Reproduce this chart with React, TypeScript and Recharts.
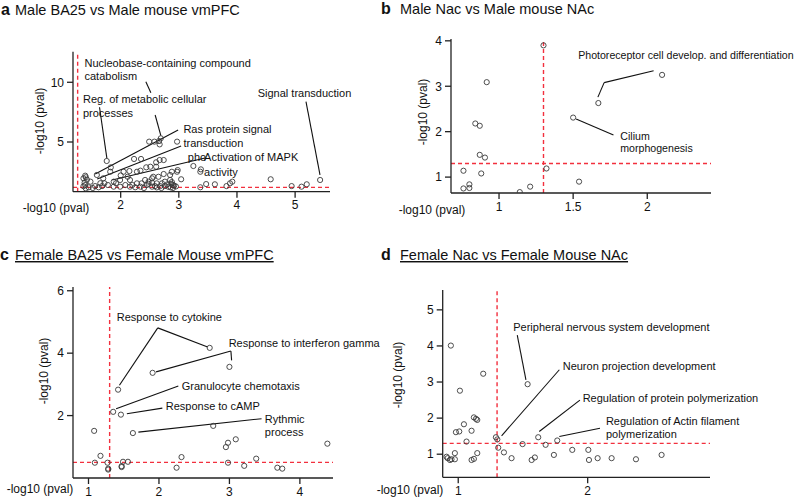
import React from 'react';
import { ScatterChart, Scatter, XAxis, YAxis, ReferenceLine, ReferenceDot } from 'recharts';

const FONT = '"Liberation Sans", Arial, Helvetica, sans-serif';

type Pt = [number, number];
type Note = { text: string; x: number; y: number };
type Seg = [number, number, number, number];

// ---------- Panel a: Male BA25 vs Male mouse vmPFC ----------
const maleBA25Points: Pt[] = [
  [2.49, 5.03], [2.58, 5.03], [2.66, 5.08], [2.69, 5.31], [2.67, 4.8], [2.97, 5.03],
  [1.76, 3.41], [2.23, 3.58], [2.35, 3.58], [2.61, 3.3], [2.67, 3.49], [2.74, 3.49],
  [3.25, 2.99], [3.38, 2.71], [3.37, 2.51], [1.83, 2.88], [1.82, 2.51],
  [2.05, 2.51], [2.15, 2.57], [2.28, 2.51], [2.34, 2.6], [2.44, 2.88], [2.51, 2.93], [2.61, 2.93],
  [2.88, 2.51], [2.97, 2.51], [2.98, 2.65], [1.59, 2.24], [1.39, 2.18], [1.36, 1.96], [1.4, 2.05],
  [2.85, 2.24], [2.74, 2.32], [2.65, 2.09], [2.56, 2.09], [2.12, 2.09], [2.0, 2.2],
  [3.04, 1.88], [2.85, 1.82], [2.88, 1.65], [2.87, 1.5], [2.9, 1.4], [2.92, 1.35], [2.95, 1.28],
  [2.86, 1.2], [2.8, 1.45], [2.76, 1.68], [2.71, 1.54], [2.62, 1.54], [2.54, 1.59], [2.59, 1.31],
  [2.68, 1.31], [2.76, 1.31], [1.7, 1.96], [1.72, 1.54], [1.88, 1.68], [1.99, 1.82], [2.16, 1.82],
  [2.28, 1.54], [2.36, 1.54], [2.42, 1.82], [2.48, 1.68], [2.54, 1.96], [2.45, 1.4], [2.54, 1.26],
  [1.48, 1.68], [1.39, 1.4], [1.45, 1.21], [1.56, 1.31], [1.62, 1.21], [1.68, 1.31], [1.88, 1.26],
  [1.99, 1.26], [2.08, 1.4], [2.16, 1.26], [2.25, 1.21], [2.34, 1.26], [1.38, 1.6], [1.42, 1.85],
  [1.36, 1.3], [1.4, 1.12], [1.52, 1.15], [1.65, 1.55], [1.78, 1.4], [1.92, 1.55], [2.2, 1.4],
  [2.4, 1.15], [2.62, 1.2], [2.48, 1.5], [2.7, 1.15], [2.82, 1.25], [2.9, 1.15],
  [3.37, 1.21], [3.47, 1.48], [3.62, 1.46], [3.82, 1.31], [3.88, 1.54], [3.92, 1.68],
  [4.58, 1.88], [4.94, 1.31], [5.11, 1.26], [5.2, 1.46], [5.43, 1.82],
];
const maleBA25XTicks = [2, 3, 4, 5];
const maleBA25YTicks = [5, 10];
const maleBA25Notes: Note[] = [
  { text: 'Nucleobase-containing compound', x: 1.378, y: 11.31 },
  { text: 'catabolism', x: 1.378, y: 10.19 },
  { text: 'Reg. of metabolic cellular', x: 1.351, y: 8.24 },
  { text: 'processes', x: 1.351, y: 7.12 },
  { text: 'Signal transduction', x: 4.357, y: 8.79 },
  { text: 'Ras protein signal', x: 3.079, y: 5.73 },
  { text: 'transduction', x: 3.079, y: 4.56 },
  { text: 'pho', x: 3.155, y: 3.43 },
  { text: 'Activation of MAPK', x: 3.435, y: 3.43 },
  { text: 'activity', x: 3.435, y: 2.18 },
];
const maleBA25Segs: Seg[] = [
  [2.433, 10.05, 2.519, 9.13],
  [2.593, 7.26, 2.691, 5.53],
  [1.636, 7.91, 1.763, 3.63],
  [5.187, 8.38, 5.428, 2.24],
  [2.988, 6.0, 1.562, 2.32],
  [3.04, 4.66, 1.596, 1.9],
  [3.452, 3.66, 1.854, 1.82],
];

// ---------- Panel b: Male Nac vs Male mouse NAc ----------
const maleNacPoints: Pt[] = [
  [1.3, 3.9], [2.1, 3.25], [1.67, 2.63], [1.5, 2.31], [0.917, 3.09], [0.84, 2.18], [0.87, 2.13],
  [0.87, 1.49], [0.905, 1.43], [0.76, 1.14], [0.88, 1.08], [0.76, 0.75], [0.8, 0.84], [0.8, 0.76],
  [1.14, 0.67], [1.21, 0.79], [1.32, 1.19], [1.54, 0.9],
];
const maleNacXTicks = [1, 1.5, 2];
const maleNacYTicks = [1, 2, 3, 4];
const maleNacNotes: Note[] = [
  { text: 'Photoreceptor cell develop. and differentiation', x: 1.534, y: 3.605 },
  { text: 'Cilium', x: 1.818, y: 1.817 },
  { text: 'morphogenesis', x: 1.818, y: 1.545 },
];
const maleNacSegs: Seg[] = [
  [1.667, 2.76, 1.709, 3.08],
  [1.709, 3.08, 2.043, 3.34],
  [1.52, 2.28, 1.772, 1.927],
];

// ---------- Panel c: Female BA25 vs Female Mouse vmPFC ----------
const femaleBA25Points: Pt[] = [
  [2.72, 4.17], [3.0, 3.56], [1.91, 3.37], [1.42, 2.83], [1.35, 2.12], [1.46, 2.03], [1.63, 1.44],
  [2.77, 1.67], [1.08, 1.51], [3.09, 1.24], [2.98, 1.13], [2.95, 0.99], [4.39, 1.1], [1.17, 0.71],
  [1.09, 0.49], [1.27, 0.49], [1.28, 0.3], [1.28, 0.27], [1.49, 0.52], [1.56, 0.52], [1.47, 0.35],
  [1.47, 0.38], [2.32, 0.67], [2.25, 0.33], [2.98, 0.49], [3.21, 0.39], [3.38, 0.62], [3.68, 0.33],
  [3.75, 0.3],
];
const femaleBA25XTicks = [1, 2, 3, 4];
const femaleBA25YTicks = [2, 4, 6];
const femaleBA25Notes: Note[] = [
  { text: 'Response to cytokine', x: 1.402, y: 5.02 },
  { text: 'Response to interferon gamma', x: 2.989, y: 4.2 },
  { text: 'Granulocyte chemotaxis', x: 2.323, y: 2.82 },
  { text: 'Response to cAMP', x: 2.096, y: 2.18 },
  { text: 'Rythmic', x: 3.503, y: 1.75 },
  { text: 'process', x: 3.503, y: 1.34 },
];
const femaleBA25Segs: Seg[] = [
  [1.439, 2.97, 1.983, 4.81],
  [1.983, 4.81, 2.691, 4.2],
  [1.959, 3.4, 3.021, 4.07],
  [3.021, 4.07, 3.031, 3.77],
  [1.392, 2.22, 2.275, 2.95],
  [1.544, 2.06, 2.048, 2.24],
  [1.708, 1.47, 3.456, 1.9],
];

// ---------- Panel d: Female Nac vs Female Mouse NAc ----------
const femaleNacPoints: Pt[] = [
  [0.943, 4.01], [1.193, 3.23], [1.013, 2.76], [1.536, 2.94], [1.121, 2.02], [1.137, 1.98],
  [1.147, 1.95], [1.044, 1.83], [0.982, 1.61], [1.008, 1.63], [1.103, 1.65], [1.064, 1.35],
  [1.291, 1.47], [1.302, 1.41], [1.309, 1.18], [1.353, 1.05], [1.412, 0.89], [1.497, 1.28],
  [1.592, 0.91], [1.567, 0.84], [1.618, 1.47], [1.675, 1.26], [1.739, 0.98], [1.765, 1.38],
  [1.881, 1.12], [2.005, 1.12], [2.01, 0.84], [2.077, 0.89], [2.185, 0.89], [2.373, 0.86],
  [2.571, 0.98], [0.918, 0.89], [0.936, 0.84], [0.948, 0.86], [0.974, 0.86], [0.974, 1.03],
  [1.103, 0.84], [1.121, 0.87], [1.147, 1.03], [0.91, 0.93],
];
const femaleNacXTicks = [1, 2];
const femaleNacYTicks = [1, 2, 3, 4, 5];
const femaleNacNotes: Note[] = [
  { text: 'Peripheral nervous system development', x: 1.425, y: 4.41 },
  { text: 'Neuron projection development', x: 1.807, y: 3.32 },
  { text: 'Regulation of protein polymerization', x: 1.961, y: 2.46 },
  { text: 'Regulation of Actin filament', x: 2.141, y: 1.81 },
  { text: 'polymerization', x: 2.141, y: 1.46 },
];
const femaleNacSegs: Seg[] = [
  [1.456, 4.3, 1.523, 3.06],
  [1.335, 1.51, 1.781, 3.34],
  [1.626, 1.63, 1.94, 2.5],
  [1.781, 1.49, 2.095, 1.72],
];

const W = 800;
const H = 498;
const YW = 40;
const XH = 30;
const AXIS = '#222';
const RED = '#f2303e';

const Ring = (p: any) => (
  <circle cx={p.cx} cy={p.cy} r={2.6} fill="none" stroke="#3a3a3a" strokeWidth={0.9} />
);

type PanelProps = {
  rect: { left: number; top: number; right: number; bottom: number };
  xDomain: [number, number];
  yDomain: [number, number];
  xTicks: number[];
  yTicks: number[];
  points: Pt[];
  xThr: number;
  yThr: number;
  notes: Note[];
  segs: Seg[];
  noteSize?: number;
};

function Panel({ rect, xDomain, yDomain, xTicks, yTicks, points, xThr, yThr, notes, segs, noteSize = 11 }: PanelProps) {
  const data = points.map(([x, y]) => ({ x, y }));
  return (
    <div style={{ position: 'absolute', left: 0, top: 0, width: W, height: H }}>
      <ScatterChart
        width={W}
        height={H}
        margin={{ top: rect.top, right: W - rect.right, bottom: H - rect.bottom - XH, left: rect.left - YW }}
      >
        <XAxis
          type="number"
          dataKey="x"
          domain={xDomain}
          ticks={xTicks}
          interval={0}
          allowDataOverflow
          height={XH}
          tickSize={6}
          tickMargin={3}
          axisLine={{ stroke: AXIS, strokeWidth: 1.3 }}
          tickLine={{ stroke: AXIS, strokeWidth: 1.3 }}
          tick={{ fontSize: 12, fill: '#111', fontFamily: FONT }}
        />
        <YAxis
          type="number"
          dataKey="y"
          domain={yDomain}
          ticks={yTicks}
          interval={0}
          allowDataOverflow
          width={YW}
          tickSize={6}
          tickMargin={3}
          axisLine={{ stroke: AXIS, strokeWidth: 1.3 }}
          tickLine={{ stroke: AXIS, strokeWidth: 1.3 }}
          tick={{ fontSize: 12, fill: '#111', fontFamily: FONT }}
        />
        <ReferenceLine x={xThr} stroke={RED} strokeOpacity={1} strokeDasharray="4 3" strokeWidth={1.4} />
        <ReferenceLine y={yThr} stroke={RED} strokeOpacity={1} strokeDasharray="4 3" strokeWidth={1.4} />
        {segs.map((s, i) => (
          <ReferenceLine
            key={'s' + i}
            segment={[{ x: s[0], y: s[1] }, { x: s[2], y: s[3] }]}
            stroke="#111"
            strokeOpacity={1}
            strokeWidth={1.1}
            ifOverflow="visible"
          />
        ))}
        <Scatter data={data} isAnimationActive={false} shape={Ring} />
        {notes.map((n, i) => (
          <ReferenceDot
            key={'n' + i}
            x={n.x}
            y={n.y}
            r={0}
            ifOverflow="visible"
            shape={(p: any) => (
              <text x={p.cx} y={p.cy} fontSize={noteSize} fill="#111" fontFamily={FONT}>
                {n.text}
              </text>
            )}
          />
        ))}
      </ScatterChart>
    </div>
  );
}

const txt = { fontFamily: FONT, fill: '#111' } as const;

function YLabel({ x, y }: { x: number; y: number }) {
  return (
    <text x={x} y={y} dy="0.35em" textAnchor="middle" fontSize={12} transform={`rotate(-90, ${x}, ${y})`} {...txt}>
      -log10 (pval)
    </text>
  );
}

export default function App() {
  return (
    <div style={{ position: 'absolute', left: 0, top: 0, width: W, height: H, background: '#fff', overflow: 'hidden' }}>
      <Panel
        rect={{ left: 73, top: 51.7, right: 330, bottom: 191.7 }}
        xDomain={[1.18, 5.6]}
        yDomain={[0.84, 12.56]}
        xTicks={maleBA25XTicks}
        yTicks={maleBA25YTicks}
        points={maleBA25Points}
        xThr={1.26}
        yThr={1.2}
        notes={maleBA25Notes}
        segs={maleBA25Segs}
      />
      <Panel
        rect={{ left: 451, top: 39, right: 711, bottom: 193 }}
        xDomain={[0.676, 2.43]}
        yDomain={[0.65, 4.04]}
        xTicks={maleNacXTicks}
        yTicks={maleNacYTicks}
        points={maleNacPoints}
        xThr={1.3}
        yThr={1.3}
        notes={maleNacNotes}
        segs={maleNacSegs}
        noteSize={10.6}
      />
      <Panel
        rect={{ left: 73, top: 287, right: 333, bottom: 478 }}
        xDomain={[0.78, 4.47]}
        yDomain={[0, 6.12]}
        xTicks={femaleBA25XTicks}
        yTicks={femaleBA25YTicks}
        points={femaleBA25Points}
        xThr={1.3}
        yThr={0.5}
        notes={femaleBA25Notes}
        segs={femaleBA25Segs}
      />
      <Panel
        rect={{ left: 442.7, top: 290, right: 710, bottom: 477.3 }}
        xDomain={[0.88, 2.945]}
        yDomain={[0.36, 5.55]}
        xTicks={femaleNacXTicks}
        yTicks={femaleNacYTicks}
        points={femaleNacPoints}
        xThr={1.3}
        yThr={1.3}
        notes={femaleNacNotes}
        segs={femaleNacSegs}
      />
      <svg width={W} height={H} style={{ position: 'absolute', left: 0, top: 0, pointerEvents: 'none' }}>
        <text x={1} y={15} fontSize={16} fontWeight="bold" {...txt}>a</text>
        <text x={15} y={15} fontSize={14.5} {...txt}>Male BA25 vs Male mouse vmPFC</text>
        <text x={381} y={14} fontSize={16} fontWeight="bold" {...txt}>b</text>
        <text x={400} y={14} fontSize={14.5} {...txt}>Male Nac vs Male mouse NAc</text>
        <text x={0} y={260} fontSize={16} fontWeight="bold" {...txt}>c</text>
        <text x={15} y={260} fontSize={14.5} style={{ textDecoration: 'underline' }} {...txt}>
          Female BA25 vs Female Mouse vmPFC
        </text>
        <text x={381} y={260} fontSize={16} fontWeight="bold" {...txt}>d</text>
        <text x={400} y={260} fontSize={14.5} style={{ textDecoration: 'underline' }} {...txt}>
          Female Nac vs Female Mouse NAc
        </text>

        <YLabel x={40} y={121} />
        <YLabel x={423} y={112} />
        <YLabel x={44} y={371} />
        <YLabel x={398} y={375} />

        <text x={56} y={212} textAnchor="middle" fontSize={12} {...txt}>-log10 (pval)</text>
        <text x={432} y={214} textAnchor="middle" fontSize={12} {...txt}>-log10 (pval)</text>
        <text x={40} y={493} textAnchor="middle" fontSize={12} {...txt}>-log10 (pval)</text>
        <text x={410} y={494} textAnchor="middle" fontSize={12} {...txt}>-log10 (pval)</text>
      </svg>
    </div>
  );
}
